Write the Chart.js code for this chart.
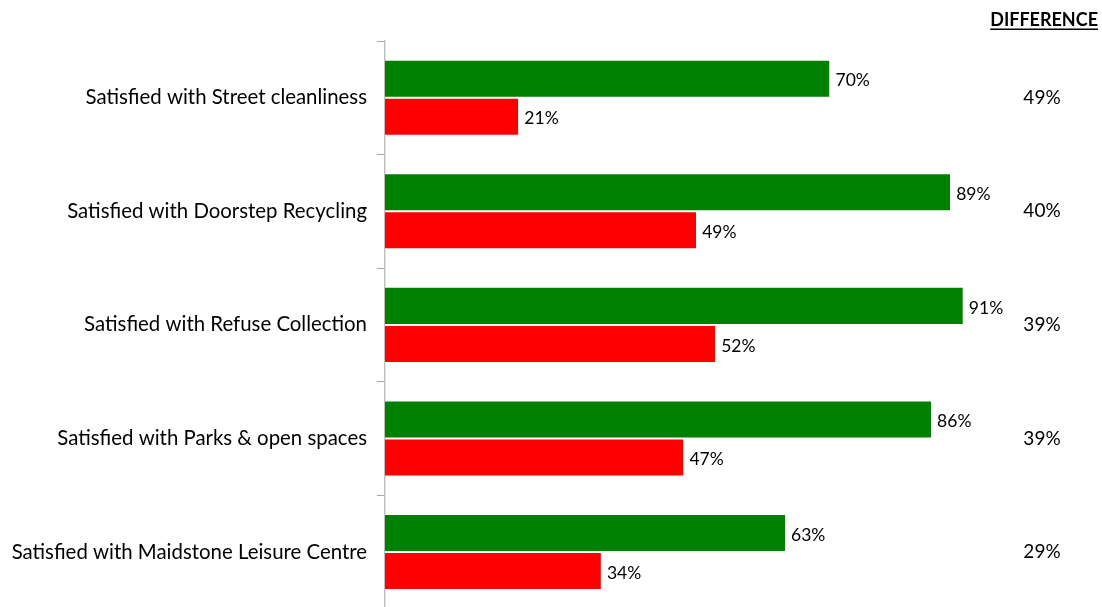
<!DOCTYPE html>
<html>
<head>
<meta charset="utf-8">
<script src="https://cdn.jsdelivr.net/npm/chart.js@4/dist/chart.umd.min.js"></script>
<style>
  html, body { margin: 0; padding: 0; background: #fff; overflow: hidden; }
  #wrap { position: relative; width: 1102px; height: 631px; }
</style>
</head>
<body>
<div id="wrap"><canvas id="c"></canvas></div>
<script>
const categories = [
  'Satisfied with Street cleanliness',
  'Satisfied with Doorstep Recycling',
  'Satisfied with Refuse Collection',
  'Satisfied with Parks & open spaces',
  'Satisfied with Maidstone Leisure Centre'
];
const satisfiedValues = [70, 89, 91, 86, 63];
const comparisonValues = [21, 49, 52, 47, 34];
const differenceValues = [49, 40, 39, 39, 29];
const differenceTitle = 'DIFFERENCE';

const FONT = 'Lato, "Open Sans", sans-serif';

// Percentage labels just past the end of each bar
const barValueLabels = {
  id: 'barValueLabels',
  afterDatasetsDraw(chart) {
    const ctx = chart.ctx;
    ctx.save();
    ctx.font = '17.5px ' + FONT;
    ctx.fillStyle = '#000';
    ctx.textAlign = 'left';
    ctx.textBaseline = 'middle';
    chart.data.datasets.forEach((ds, i) => {
      chart.getDatasetMeta(i).data.forEach((bar, j) => {
        ctx.fillText(ds.data[j] + '%', bar.x + 6, bar.y + 2);
      });
    });
    ctx.restore();
  }
};

// Right-hand column with the gap between the two series
const differenceColumn = {
  id: 'differenceColumn',
  afterDraw(chart) {
    const ctx = chart.ctx;
    const y = chart.scales.y;
    ctx.save();
    ctx.fillStyle = '#000';
    ctx.textBaseline = 'middle';
    ctx.font = 'bold 18px ' + FONT;
    ctx.textAlign = 'right';
    ctx.fillText(differenceTitle, 1098, 20);
    const w = ctx.measureText(differenceTitle).width;
    ctx.fillRect(1098 - w, 28.5, w, 1.5);
    ctx.font = '19px ' + FONT;
    ctx.textAlign = 'center';
    differenceValues.forEach((v, i) => {
      ctx.fillText(v + '%', 1042, y.getPixelForValue(i));
    });
    ctx.restore();
  }
};

new Chart(document.getElementById('c'), {
  type: 'bar',
  data: {
    labels: categories,
    datasets: [
      {
        data: satisfiedValues,
        backgroundColor: '#008000',
        borderColor: '#ffffff',
        borderWidth: { top: 1, bottom: 1, right: 0, left: 0 },
        categoryPercentage: 0.67,
        barPercentage: 1.0
      },
      {
        data: comparisonValues,
        backgroundColor: '#ff0000',
        borderColor: '#ffffff',
        borderWidth: { top: 1, bottom: 1, right: 0, left: 0 },
        categoryPercentage: 0.67,
        barPercentage: 1.0
      }
    ]
  },
  options: {
    indexAxis: 'y',
    responsive: true,
    maintainAspectRatio: false,
    animation: false,
    layout: { padding: { top: 41, right: 82, bottom: 3, left: 0 } },
    plugins: {
      legend: { display: false },
      tooltip: { enabled: false }
    },
    scales: {
      x: {
        display: false,
        min: 0,
        max: 100
      },
      y: {
        grid: {
          drawOnChartArea: false,
          drawTicks: true,
          tickLength: 8,
          color: '#a6a6a6',
          offset: true
        },
        border: { display: true, color: '#bfbfbf', width: 1.5 },
        ticks: {
          color: '#000',
          padding: 10,
          font: { family: FONT, size: 20.4 }
        },
        afterFit(axis) { axis.width = 385; }
      }
    }
  },
  plugins: [barValueLabels, differenceColumn]
});
</script>
</body>
</html>
